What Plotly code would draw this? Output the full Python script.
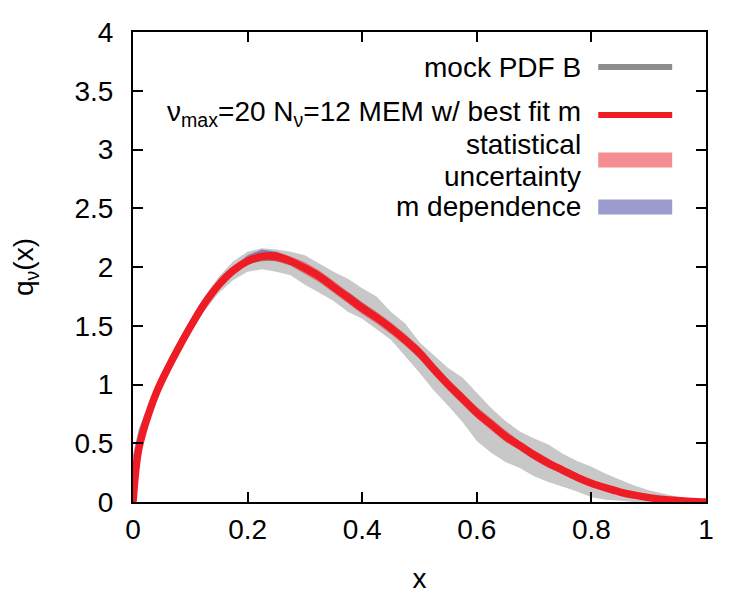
import plotly.graph_objects as go

# ---------------- data ----------------
x_vals = [0, 0.005, 0.01, 0.02, 0.03, 0.04, 0.05, 0.075, 0.1, 0.125, 0.15, 0.175, 0.2, 0.225,
          0.25, 0.275, 0.3, 0.325, 0.35, 0.375, 0.4, 0.425, 0.45, 0.475, 0.5, 0.525, 0.55,
          0.575, 0.6, 0.625, 0.65, 0.675, 0.7, 0.725, 0.75, 0.775, 0.8, 0.825, 0.85, 0.875,
          0.9, 0.925, 0.95, 0.975, 1.0]

# MEM best-fit curve (red)
mem_best = [0.0, 0.28, 0.45, 0.64, 0.79, 0.92, 1.03, 1.27, 1.49, 1.69, 1.85, 1.97, 2.05, 2.09,
            2.09, 2.05, 1.99, 1.92, 1.83, 1.74, 1.65, 1.57, 1.48, 1.38, 1.27, 1.13, 1.00,
            0.88, 0.76, 0.66, 0.56, 0.48, 0.40, 0.33, 0.27, 0.21, 0.16, 0.12, 0.085, 0.058,
            0.037, 0.022, 0.012, 0.005, 0.0]

# statistical uncertainty band (light red)
stat_upper = [0.02, 0.31, 0.48, 0.67, 0.82, 0.95, 1.06, 1.30, 1.52, 1.72, 1.88, 2.00, 2.08, 2.12,
              2.13, 2.09, 2.04, 1.97, 1.88, 1.79, 1.70, 1.62, 1.53, 1.43, 1.32, 1.18, 1.05,
              0.93, 0.81, 0.71, 0.61, 0.52, 0.44, 0.37, 0.30, 0.24, 0.19, 0.14, 0.10, 0.07,
              0.047, 0.029, 0.017, 0.008, 0.002]
stat_lower = [0.0, 0.25, 0.42, 0.61, 0.76, 0.89, 1.00, 1.24, 1.46, 1.66, 1.82, 1.94, 2.02, 2.06,
              2.05, 2.01, 1.94, 1.87, 1.78, 1.69, 1.60, 1.52, 1.43, 1.33, 1.22, 1.08, 0.95,
              0.83, 0.71, 0.61, 0.51, 0.44, 0.36, 0.29, 0.24, 0.18, 0.13, 0.10, 0.07, 0.046,
              0.027, 0.015, 0.007, 0.002, 0.0]

# m dependence band (blue)
mdep_upper = [0.40, 0.52, 0.62, 0.74, 0.84, 0.95, 1.06, 1.30, 1.52, 1.72, 1.88, 2.00, 2.10, 2.15,
              2.13, 2.08, 2.01, 1.94, 1.85, 1.76, 1.67, 1.59, 1.50, 1.40, 1.29, 1.15, 1.02,
              0.90, 0.78, 0.68, 0.58, 0.50, 0.42, 0.35, 0.29, 0.23, 0.18, 0.13, 0.095, 0.065,
              0.042, 0.026, 0.015, 0.007, 0.001]
mdep_lower = [0.0, 0.26, 0.43, 0.62, 0.77, 0.90, 1.01, 1.24, 1.45, 1.64, 1.81, 1.94, 2.03, 2.07,
              2.07, 2.04, 1.97, 1.90, 1.81, 1.72, 1.63, 1.55, 1.46, 1.36, 1.25, 1.11, 0.98,
              0.86, 0.74, 0.64, 0.54, 0.46, 0.38, 0.31, 0.25, 0.19, 0.14, 0.11, 0.075, 0.05,
              0.032, 0.018, 0.009, 0.003, 0.0]

# mock PDF B (dark gray line) and its band (light gray)
mock_pdf = [0.0, 0.27, 0.45, 0.65, 0.80, 0.93, 1.04, 1.28, 1.50, 1.70, 1.86, 1.97, 2.04, 2.07,
            2.07, 2.04, 1.98, 1.91, 1.82, 1.76, 1.67, 1.58, 1.47, 1.37, 1.25, 1.12, 1.00,
            0.89, 0.76, 0.65, 0.56, 0.47, 0.40, 0.33, 0.27, 0.21, 0.16, 0.12, 0.09, 0.06,
            0.04, 0.025, 0.013, 0.006, 0.0]
mock_upper = [0.05, 0.33, 0.50, 0.69, 0.84, 0.97, 1.08, 1.32, 1.55, 1.75, 1.92, 2.05, 2.13, 2.16,
              2.15, 2.13, 2.10, 2.03, 1.96, 1.90, 1.82, 1.75, 1.62, 1.52, 1.36, 1.25, 1.14,
              1.06, 0.93, 0.80, 0.69, 0.60, 0.54, 0.49, 0.41, 0.35, 0.30, 0.24, 0.19, 0.14,
              0.10, 0.07, 0.045, 0.03, 0.01]
mock_lower = [0.0, 0.22, 0.40, 0.60, 0.75, 0.87, 0.98, 1.22, 1.44, 1.63, 1.78, 1.89, 1.96, 1.98,
              1.96, 1.93, 1.85, 1.78, 1.71, 1.62, 1.56, 1.47, 1.38, 1.24, 1.10, 0.95, 0.82,
              0.68, 0.52, 0.42, 0.34, 0.29, 0.22, 0.17, 0.13, 0.09, 0.04, 0.02, 0.01, 0.0,
              0.0, 0.0, 0.0, 0.0, 0.0]

x_ticks = [0, 0.2, 0.4, 0.6, 0.8, 1]
x_ticklabels = ["0", "0.2", "0.4", "0.6", "0.8", "1"]
y_ticks = [0, 0.5, 1, 1.5, 2, 2.5, 3, 3.5, 4]
y_ticklabels = ["0", "0.5", "1", "1.5", "2", "2.5", "3", "3.5", "4"]

legend_labels = ["mock PDF B",
                 "ν<sub>max</sub>=20 N<sub>ν</sub>=12 MEM w/ best fit m",
                 "statistical",
                 "uncertainty",
                 "m dependence"]

# ---------------- styles ----------------
GRAY_BAND = "#c8c8c8"
GRAY_LINE = "#8c8c8c"
RED = "#ee1c25"
RED_BAND = "rgba(238,28,37,0.5)"
BLUE_BAND = "rgba(55,55,155,0.5)"
FONT = "Liberation Sans, Arial, sans-serif"
FS = 28

fig = go.Figure()


def band(lower, upper, color):
    fig.add_trace(go.Scatter(x=x_vals, y=lower, mode="lines", line=dict(width=0),
                             showlegend=False, hoverinfo="skip"))
    fig.add_trace(go.Scatter(x=x_vals, y=upper, mode="lines", line=dict(width=0),
                             fill="tonexty", fillcolor=color, showlegend=False,
                             hoverinfo="skip"))


band(mock_lower, mock_upper, GRAY_BAND)
fig.add_trace(go.Scatter(x=x_vals, y=mock_pdf, mode="lines",
                         line=dict(color=GRAY_LINE, width=5, shape="spline"),
                         showlegend=False))
band(mdep_lower, mdep_upper, BLUE_BAND)
band(stat_lower, stat_upper, RED_BAND)
fig.add_trace(go.Scatter(x=x_vals, y=mem_best, mode="lines",
                         line=dict(color=RED, width=7.5, shape="spline"),
                         showlegend=False))

# ---------------- legend (text right-aligned, sample to the right) ----------------
x_text = 0.786
x0s, x1s = 0.812, 0.941
text_y = [0.9255, 0.8276, 0.7617, 0.6936, 0.6277]
for lab, yy in zip(legend_labels, text_y):
    fig.add_annotation(x=x_text, y=yy, xref="paper", yref="paper", text=lab,
                       showarrow=False, xanchor="right", yanchor="middle", align="right",
                       font=dict(family=FONT, size=FS, color="black"))
sample_y = [0.9255, 0.8234, 0.7277, 0.6277]
fig.add_shape(type="line", xref="paper", yref="paper", x0=x0s, x1=x1s,
              y0=sample_y[0], y1=sample_y[0], line=dict(color=GRAY_LINE, width=6))
fig.add_shape(type="line", xref="paper", yref="paper", x0=x0s, x1=x1s,
              y0=sample_y[1], y1=sample_y[1], line=dict(color=RED, width=6))
fig.add_shape(type="rect", xref="paper", yref="paper", x0=x0s, x1=x1s,
              y0=sample_y[2] - 0.016, y1=sample_y[2] + 0.016, line=dict(width=0),
              fillcolor=RED_BAND)
fig.add_shape(type="rect", xref="paper", yref="paper", x0=x0s, x1=x1s,
              y0=sample_y[3] - 0.016, y1=sample_y[3] + 0.016, line=dict(width=0),
              fillcolor=BLUE_BAND)

axis_common = dict(showline=True, linecolor="black", linewidth=2, mirror="ticks",
                   ticks="inside", ticklen=10, tickwidth=2, tickcolor="black",
                   showgrid=False, zeroline=False, automargin=False,
                   tickfont=dict(family=FONT, size=FS, color="black"))

fig.update_xaxes(range=[0, 1], tickvals=x_ticks, ticktext=x_ticklabels,
                 title=dict(text="x", font=dict(family=FONT, size=FS, color="black"),
                            standoff=25),
                 ticklabelstandoff=1, **axis_common)
fig.update_yaxes(range=[0, 4], tickvals=y_ticks, ticktext=y_ticklabels,
                 title=dict(text="q<sub>ν</sub>(x)",
                            font=dict(family=FONT, size=FS, color="black"), standoff=33),
                 ticklabelstandoff=12, **axis_common)

fig.update_layout(width=750, height=600, margin=dict(l=133, r=44, t=32, b=98),
                  plot_bgcolor="white", paper_bgcolor="white", showlegend=False,
                  font=dict(family=FONT, size=FS, color="black"))

fig.write_html("out.html")
